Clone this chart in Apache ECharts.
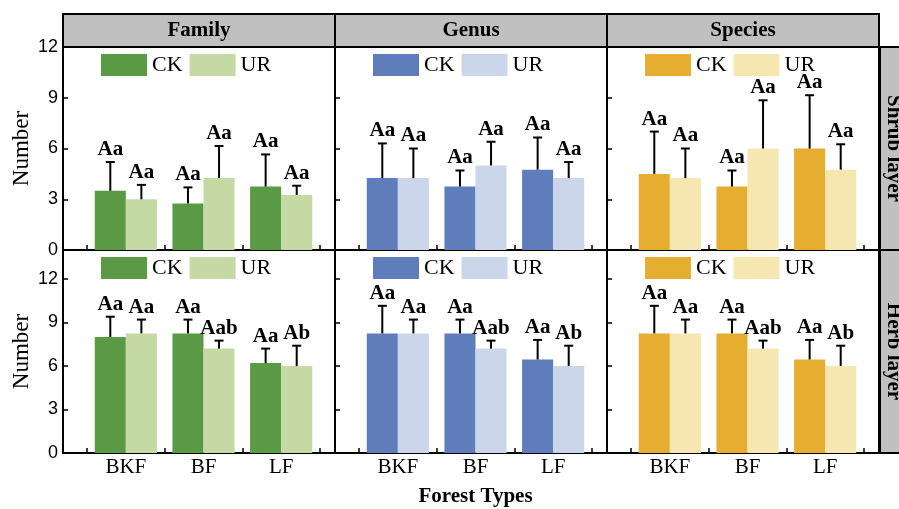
<!DOCTYPE html>
<html><head><meta charset="utf-8">
<script src="https://cdn.jsdelivr.net/npm/echarts@6/dist/echarts.min.js"></script>
<style>html,body{margin:0;padding:0;background:#fff}#c{width:899px;height:509px}</style>
</head><body><div id="c"></div><script>
// ---------------- data ----------------
const categories = ['BKF', 'BF', 'LF'];
const panelTitles = ['Family', 'Genus', 'Species'];
const layerTitles = ['Shrub layer', 'Herb layer'];
const treatments = ['CK', 'UR'];
const yTicksShrub = [0, 3, 6, 9, 12];
const yTicksHerb = [0, 3, 6, 9, 12];

// Shrub layer (means and error bars)
const shrubFamilyCK = [3.5, 2.75, 3.75];
const shrubFamilyUR = [3.0, 4.25, 3.25];
const shrubFamilyCKErr = [1.7, 0.95, 1.9];
const shrubFamilyURErr = [0.85, 1.9, 0.55];
const shrubGenusCK = [4.25, 3.75, 4.75];
const shrubGenusUR = [4.25, 5.0, 4.25];
const shrubGenusCKErr = [2.05, 0.95, 1.9];
const shrubGenusURErr = [1.75, 1.4, 0.95];
const shrubSpeciesCK = [4.5, 3.75, 6.0];
const shrubSpeciesUR = [4.25, 6.0, 4.75];
const shrubSpeciesCKErr = [2.5, 0.95, 3.15];
const shrubSpeciesURErr = [1.75, 2.85, 1.5];

// Herb layer
const herbFamilyCK = [8.0, 8.25, 6.2];
const herbFamilyUR = [8.25, 7.2, 6.0];
const herbFamilyCKErr = [1.4, 0.95, 1.0];
const herbFamilyURErr = [0.95, 0.55, 1.4];
const herbGenusCK = [8.25, 8.25, 6.45];
const herbGenusUR = [8.25, 7.2, 6.0];
const herbGenusCKErr = [1.9, 0.95, 1.35];
const herbGenusURErr = [0.95, 0.55, 1.4];
const herbSpeciesCK = [8.25, 8.25, 6.45];
const herbSpeciesUR = [8.25, 7.2, 6.0];
const herbSpeciesCKErr = [1.9, 0.95, 1.35];
const herbSpeciesURErr = [0.95, 0.55, 1.4];

// significance letters
const shrubLettersCK = ['Aa', 'Aa', 'Aa'];
const shrubLettersUR = ['Aa', 'Aa', 'Aa'];
const herbLettersCK = ['Aa', 'Aa', 'Aa'];
const herbLettersUR = ['Aa', 'Aab', 'Ab'];

// ---------------- layout / style ----------------
const palette = [
  ['#5b9a45', '#c4d9a4'],
  ['#5f7dba', '#cbd6eb'],
  ['#e5ae31', '#f5e6b2']
];
const serif = '"Liberation Serif", "Times New Roman", serif';
const sans = '"Liberation Sans", Arial, sans-serif';
const panelLeft = [63, 335, 607];
const panelW = 272;
const rowTop = [47, 250];
const rowH = 203;
const rowMax = [12, 14];
const innerL = 24, innerR = 15;

const rows = [
  {
    means: [[shrubFamilyCK, shrubFamilyUR], [shrubGenusCK, shrubGenusUR], [shrubSpeciesCK, shrubSpeciesUR]],
    errs: [[shrubFamilyCKErr, shrubFamilyURErr], [shrubGenusCKErr, shrubGenusURErr], [shrubSpeciesCKErr, shrubSpeciesURErr]],
    letters: [shrubLettersCK, shrubLettersUR], ticks: yTicksShrub
  },
  {
    means: [[herbFamilyCK, herbFamilyUR], [herbGenusCK, herbGenusUR], [herbSpeciesCK, herbSpeciesUR]],
    errs: [[herbFamilyCKErr, herbFamilyURErr], [herbGenusCKErr, herbGenusURErr], [herbSpeciesCKErr, herbSpeciesURErr]],
    letters: [herbLettersCK, herbLettersUR], ticks: yTicksHerb
  }
];

const grid = [], xAxis = [], yAxis = [], series = [], legend = [];

function errRender(sign, letters) {
  return function (params, api) {
    const i = api.value(0), v = api.value(1), e = api.value(2);
    const base = api.coord([i, v]);
    const top = api.coord([i, v + e]);
    const band = api.size([1, 0])[0];
    const x = base[0] + sign * band * 0.2;
    const hw = 4.5;
    return {
      type: 'group', children: [
        { type: 'line', shape: { x1: x, y1: base[1], x2: x, y2: top[1] }, style: { stroke: '#000', lineWidth: 2 } },
        { type: 'line', shape: { x1: x - hw, y1: top[1], x2: x + hw, y2: top[1] }, style: { stroke: '#000', lineWidth: 2 } },
        { type: 'text', x: x, y: top[1] - 2, style: { text: letters[i], fill: '#000', font: 'bold 21px ' + serif, align: 'center', verticalAlign: 'bottom' } }
      ]
    };
  };
}

for (let r = 0; r < 2; r++) {
  for (let c = 0; c < 3; c++) {
    const gi = grid.length;
    const L = panelLeft[c], T = rowTop[r];
    const ticks = rows[r].ticks;
    // frame grid
    grid.push({ left: L, top: T, width: panelW, height: rowH, show: true, borderColor: '#000', borderWidth: 2, backgroundColor: '#fff' });
    xAxis.push({ type: 'value', gridIndex: gi, show: false, min: 0, max: 1 });
    yAxis.push({
      type: 'value', gridIndex: gi, min: 0, max: rowMax[r], interval: 3,
      axisLine: { show: false }, splitLine: { show: false },
      axisTick: { show: true, inside: true, length: 5, lineStyle: { color: '#000', width: 1.5 } },
      axisLabel: {
        show: c === 0, margin: 5, color: '#000', fontFamily: sans, fontSize: 18,
        formatter: v => (ticks.indexOf(v) >= 0 ? String(v) : '')
      },
      name: c === 0 ? 'Number' : '', nameLocation: 'middle', nameGap: 30,
      nameTextStyle: { fontFamily: serif, fontSize: 23, color: '#000' }
    });
    // data grid
    const di = grid.length;
    grid.push({ left: L + innerL, top: T, width: panelW - innerL - innerR, height: rowH, show: false });
    xAxis.push({
      type: 'category', gridIndex: di, data: categories, boundaryGap: true,
      axisLine: { show: false },
      axisTick: { show: true, inside: true, length: 5, lineStyle: { color: '#000', width: 1.5 } },
      axisLabel: { show: r === 1, margin: 4, color: '#000', fontFamily: serif, fontSize: 21 },
      name: (r === 1 && c === 1) ? 'Forest Types' : '', nameLocation: 'middle', nameGap: 33,
      nameTextStyle: { fontFamily: serif, fontSize: 21, fontWeight: 'bold', color: '#000' }
    });
    yAxis.push({ type: 'value', gridIndex: di, min: 0, max: rowMax[r], show: false });

    for (let t = 0; t < 2; t++) {
      series.push({
        type: 'bar', name: treatments[t], xAxisIndex: di, yAxisIndex: di,
        data: rows[r].means[c][t], barGap: '0%', barCategoryGap: '20%',
        itemStyle: { color: palette[c][t] }, silent: true, z: 2
      });
    }
    for (let t = 0; t < 2; t++) {
      const m = rows[r].means[c][t], e = rows[r].errs[c][t];
      series.push({
        type: 'custom', name: 'err' + r + c + t, xAxisIndex: di, yAxisIndex: di,
        data: m.map((v, i) => [i, v, e[i]]),
        renderItem: errRender(t === 0 ? -1 : 1, rows[r].letters[t]), z: 3, silent: true
      });
    }
    legend.push({
      left: L + 38, top: T + 7, padding: 0, orient: 'horizontal',
      itemWidth: 46, itemHeight: 22, itemGap: 7, selectedMode: false, icon: 'rect',
      data: treatments.map((n, t) => ({ name: n, itemStyle: { color: palette[c][t] } })),
      textStyle: { fontFamily: serif, fontSize: 22, color: '#000' }
    });
  }
}

const graphic = [];
// top header strip
for (let c = 0; c < 3; c++) {
  graphic.push({
    type: 'rect', shape: { x: panelLeft[c], y: 14, width: panelW, height: 33 },
    style: { fill: '#c0c0c0', stroke: '#000', lineWidth: 2 }, z: 10
  });
  graphic.push({
    type: 'text', x: panelLeft[c] + panelW / 2, y: 30.5,
    style: { text: panelTitles[c], font: 'bold 21px ' + serif, fill: '#000', align: 'center', verticalAlign: 'middle' }, z: 11
  });
}
// right strip
for (let r = 0; r < 2; r++) {
  graphic.push({
    type: 'rect', shape: { x: 880, y: rowTop[r], width: 40, height: rowH },
    style: { fill: '#c0c0c0', stroke: '#000', lineWidth: 2 }, z: 10
  });
  graphic.push({
    type: 'text', x: 893, y: rowTop[r] + rowH / 2, rotation: -Math.PI / 2,
    style: { text: layerTitles[r], font: 'bold 21px ' + serif, fill: '#000', align: 'center', verticalAlign: 'middle' }, z: 11
  });
}

const chart = echarts.init(document.getElementById('c'), null, { renderer: 'canvas' });
chart.setOption({
  animation: false, backgroundColor: '#fff',
  grid, xAxis, yAxis, series, legend, graphic
});
</script></body></html>
